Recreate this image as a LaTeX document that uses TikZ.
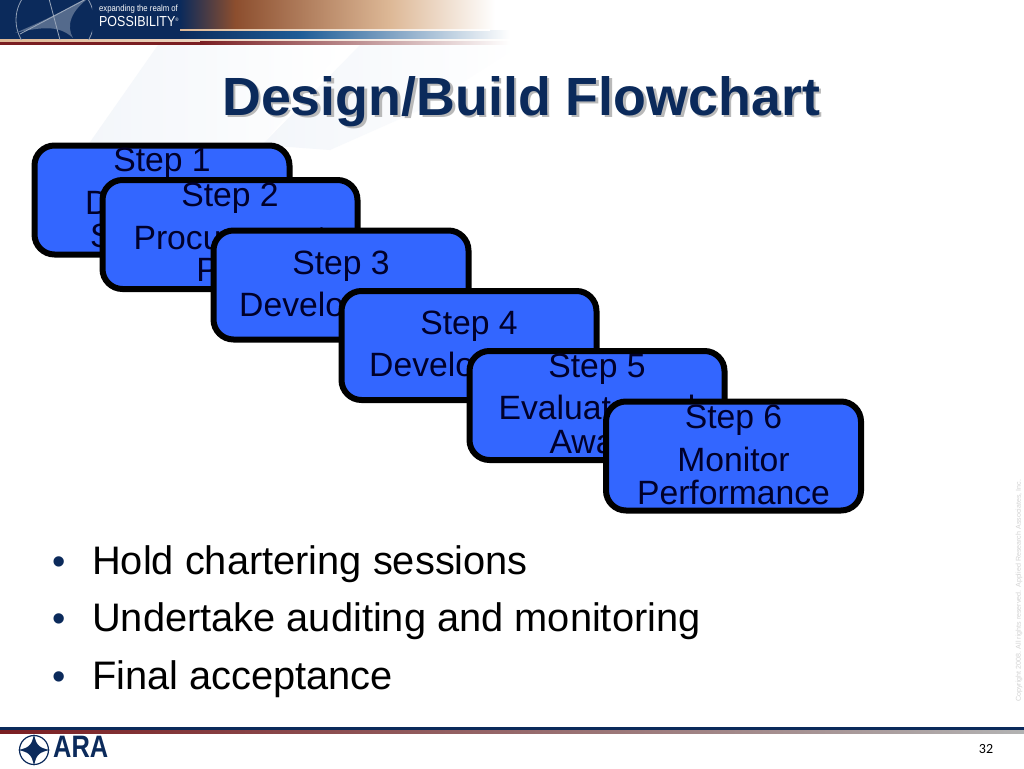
\documentclass[tikz,border=0pt]{standalone}
\usepackage{fontspec}
\setmainfont{Liberation Sans}
\newfontfamily\pagefont{Carlito}
\usepackage{tikz}
\usetikzlibrary{calc}
\definecolor{aranavy}{HTML}{0B2A5B}
\definecolor{boxblue}{HTML}{3366FF}
\definecolor{textdark}{HTML}{00002A}
\definecolor{bandblue}{HTML}{1F5C96}
\definecolor{bandbrown}{HTML}{8C4E2E}
\definecolor{bandtan}{HTML}{DDB896}
\definecolor{rulered}{HTML}{7A1E22}
\definecolor{swoosh}{HTML}{F3F6FA}
\tikzset{
    stepbox/.style={draw=black,line width=6pt,fill=boxblue,rounded corners=20pt,minimum width=255pt,minimum height=109pt,inner sep=0pt},
    steptext/.style={text=textdark,font=\fontsize{33.7}{33.7}\selectfont,anchor=base,inner sep=0pt},
    stepleft/.style={steptext,anchor=base west},
    bullettext/.style={text=black,font=\fontsize{39.8}{39.8}\selectfont,anchor=base west,inner sep=0pt},
    bulletdot/.style={text=aranavy,font=\fontsize{38}{38}\selectfont,anchor=base,inner sep=0pt},
    headertext/.style={text=white,anchor=base west,inner sep=0pt,xscale=0.86}
}
\begin{document}
\begin{tikzpicture}[x=1pt,y=-1pt]
\useasboundingbox (0,0) rectangle (1024,768);
\fill[white] (0,0) rectangle (1024,768);
% pale swooshes behind the title
\shade[left color=swoosh,right color=white] (158,45) -- (345,45) -- (262,145) -- (88,145) -- cycle;
\shade[left color=swoosh,right color=white] (360,45) -- (520,45) -- (420,110) -- (330,150) -- (262,145) -- cycle;
% header band
\fill[aranavy] (0,0) rectangle (180,40);
\shade[left color=aranavy,right color=bandbrown] (180,0) rectangle (235,30);
\shade[left color=bandbrown,right color=bandtan] (235,0) rectangle (390,30);
\shade[left color=bandtan,right color=white] (390,0) rectangle (495,30);
\shade[left color=aranavy,right color=bandblue] (180,31) rectangle (300,40);
\shade[left color=bandblue,right color=white] (300,31) rectangle (510,40);
\shade[left color=bandtan,right color=white] (180,30) rectangle (490,31);
\shade[left color=bandtan,right color=white] (0,40) rectangle (510,42);
\fill[rulered] (0,42) rectangle (201,45);
\shade[left color=rulered,right color=white] (200,42) rectangle (510,45);
% star in the header
\begin{scope}
\clip (0,0) rectangle (92,40);
\draw[white!55!aranavy,line width=0.8pt] (55,20) circle (39);
\fill[white!30!aranavy] (93,-5) .. controls (66,8) and (60,14) .. (15,33) .. controls (45,26) and (60,26) .. (73,38) .. controls (66,26) and (70,10) .. (93,-5);
\draw[white!60!aranavy,line width=0.8pt] (48,-5) -- (60,40) (20,34) -- (90,-3);
\end{scope}
\node[headertext,font=\fontsize{9}{9}\selectfont] (tagline) at (99,12) {expanding the realm of};
\node[headertext,font=\fontsize{14.5}{14.5}\selectfont] (possibility) at (99,27) {POSSIBILITY\textsuperscript{\tiny ®}};
% title
\node[text=gray!55,font=\fontsize{53.8}{53.8}\selectfont\bfseries,anchor=base west,inner sep=0pt] (titleshadow) at (224.5,117.5) {Design/Build Flowchart};
\node[text=aranavy,font=\fontsize{53.8}{53.8}\selectfont\bfseries,anchor=base west,inner sep=0pt] (title) at (222,115) {Design/Build Flowchart};
% step boxes, each one over the last
\node[stepbox] (box1) at (162,200) {};
\node[steptext] (step1) at (162,171) {Step 1};
\node[stepleft] (step1a) at (85,214) {D};
\node[stepleft] (step1b) at (90,247) {S};
\node[stepbox] (box2) at (230,234.5) {};
\node[steptext] (step2) at (230,206) {Step 2};
\node[steptext] (step2a) at (230,249) {Procurement};
\node[steptext] (step2b) at (230,281) {Plan};
\node[stepbox] (box3) at (341,285) {};
\node[steptext] (step3) at (341,274) {Step 3};
\node[stepleft] (step3a) at (239,316) {Develop};
\node[stepbox] (box4) at (469,345.5) {};
\node[steptext] (step4) at (469,334) {Step 4};
\node[stepleft] (step4a) at (369,376) {Develop};
\node[stepbox] (box5) at (597,405.5) {};
\node[steptext] (step5) at (597,377) {Step 5};
\node[steptext] (step5a) at (597,419) {Evaluate and};
\node[steptext] (step5b) at (597,453) {Award};
\node[stepbox] (box6) at (733.5,456) {};
\node[steptext] (step6) at (733.5,428) {Step 6};
\node[steptext] (step6a) at (733.5,471) {Monitor};
\node[steptext] (step6b) at (733.5,504) {Performance};
% bullets
\node[bulletdot] (dot1) at (59,574) {•};
\node[bullettext] (item1) at (92,574) {Hold chartering sessions};
\node[bulletdot] (dot2) at (59,631) {•};
\node[bullettext] (item2) at (92,631) {Undertake auditing and monitoring};
\node[bulletdot] (dot3) at (59,689) {•};
\node[bullettext] (item3) at (92,689) {Final acceptance};
% footer
\fill[aranavy] (0,727) rectangle (1024,730);
\shade[left color=rulered,right color=gray!60] (0,730) rectangle (1024,733);
\draw[aranavy,line width=1.2pt] (34,750) circle (14.5);
\fill[aranavy] (34,734) .. controls (36,745) and (39,748) .. (50,750) .. controls (39,752) and (36,755) .. (34,766) .. controls (32,755) and (29,752) .. (18,750) .. controls (29,748) and (32,745) .. (34,734);
\node[text=aranavy,font=\fontsize{31}{31}\selectfont\bfseries,anchor=base west,inner sep=0pt,xscale=0.82] (logo) at (53,757) {ARA};
\node[text=black,font=\pagefont\fontsize{14}{14}\selectfont,inner sep=0pt] (pagenum) at (986,749) {32};
\node[text=gray!35,font=\fontsize{7.1}{7.1}\selectfont,rotate=90,anchor=west,inner sep=0pt] (copyright) at (1019,702) {Copyright 2008. All rights reserved. Applied Research Associates, Inc.};
\end{tikzpicture}
\end{document}
